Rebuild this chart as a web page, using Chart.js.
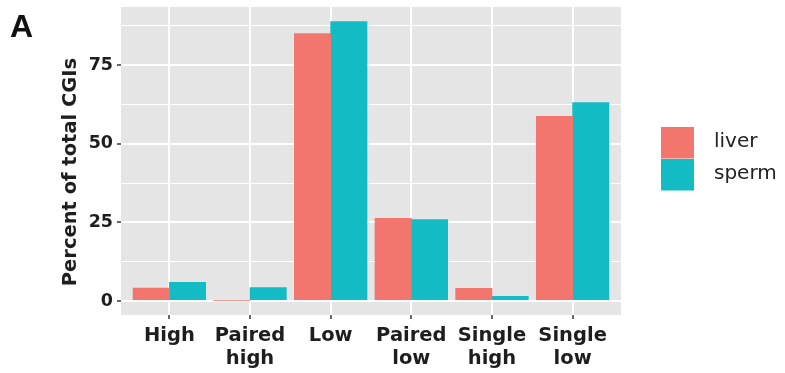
<!DOCTYPE html>
<html>
<head>
<meta charset="utf-8">
<script src="https://cdn.jsdelivr.net/npm/chart.js@4/dist/chart.umd.min.js"></script>
<style>
  body { margin: 0; background: #fff; }
</style>
</head>
<body>
<canvas id="myChart" width="785" height="373"></canvas>
<script>
// data
const categories = [['High'], ['Paired', 'high'], ['Low'], ['Paired', 'low'], ['Single', 'high'], ['Single', 'low']]
const liver = [4.2, 0.1, 85.1, 26.4, 4.1, 58.8]
const sperm = [6.0, 4.4, 88.9, 26.0, 1.6, 63.2]
const yTicks = [0, 12.5, 25, 37.5, 50, 62.5, 75, 87.5]

Chart.defaults.font.family = 'DejaVu Sans'
Chart.defaults.color = '#1e1e1e'

const toPoints = vals => vals.map((v, i) => ({ x: i, y: v }))

// grey panel behind everything
const panelBg = {
  id: 'panelBg',
  beforeDraw (chart) {
    const { ctx, chartArea: a } = chart
    ctx.save()
    ctx.fillStyle = '#E5E5E5'
    ctx.fillRect(a.left, a.top, a.right - a.left, a.bottom - a.top)
    ctx.restore()
  }
}

// ggplot-like legend, panel tag and y title
const extras = {
  id: 'extras',
  afterDraw (chart) {
    const ctx = chart.ctx
    ctx.save()
    // tag
    ctx.fillStyle = '#111'
    ctx.font = 'bold 32px "Liberation Sans"'
    ctx.textBaseline = 'alphabetic'
    ctx.fillText('A', 10, 37)
    // y title
    ctx.save()
    ctx.translate(71, 172)
    ctx.rotate(-Math.PI / 2)
    ctx.font = 'bold 19.5px "DejaVu Sans"'
    ctx.textAlign = 'center'
    ctx.textBaseline = 'middle'
    ctx.fillStyle = '#1e1e1e'
    ctx.fillText('Percent of total CGIs', 0, 0)
    ctx.restore()
    // legend
    const tops = [127, 159]
    chart.data.datasets.forEach((ds, i) => {
      ctx.fillStyle = ds.backgroundColor
      ctx.fillRect(661, tops[i], 33, 31.5)
      ctx.fillStyle = '#222'
      ctx.font = '20px "DejaVu Sans"'
      ctx.textAlign = 'left'
      ctx.textBaseline = 'middle'
      ctx.fillText(ds.label, 714, tops[i] + 15)
    })
    ctx.restore()
  }
}

const ctx = document.getElementById('myChart').getContext('2d')
new Chart(ctx, {
  type: 'bar',
  data: {
    datasets: [
      { label: 'liver', data: toPoints(liver), backgroundColor: '#F2766E', borderWidth: 0 },
      { label: 'sperm', data: toPoints(sperm), backgroundColor: '#13BBC4', borderWidth: 0 }
    ]
  },
  options: {
    responsive: false,
    animation: false,
    layout: { padding: { top: 7, right: 164, left: 0, bottom: 0 } },
    datasets: { bar: { categoryPercentage: 0.9, barPercentage: 1.02 } },
    plugins: { legend: { display: false }, tooltip: { enabled: false } },
    scales: {
      x: {
        type: 'linear',
        min: -0.6,
        max: 5.6,
        offset: false,
        afterBuildTicks: scale => { scale.ticks = categories.map((c, i) => ({ value: i })) },
        afterFit: scale => {
          scale.height = 58
          scale.paddingLeft = 0
          scale.paddingRight = 0
        },
        border: { display: false },
        grid: { offset: false, color: '#fff', lineWidth: 2, tickColor: '#666', tickLength: 4, tickWidth: 2 },
        ticks: {
          autoSkip: false,
          maxRotation: 0,
          minRotation: 0,
          padding: 5,
          font: { size: 19.5, weight: 'bold' },
          callback: v => categories[v]
        }
      },
      y: {
        min: -4.45,
        max: 93.45,
        afterBuildTicks: scale => { scale.ticks = yTicks.map(v => ({ value: v })) },
        afterFit: scale => {
          scale.width = 121
          scale.paddingTop = 0
          scale.paddingBottom = 0
        },
        border: { display: false },
        grid: {
          color: '#fff',
          lineWidth: c => (c.tick && c.tick.value % 25 === 0 ? 2 : 1),
          tickColor: c => (c.tick && c.tick.value % 25 === 0 ? '#666' : 'rgba(0,0,0,0)'),
          tickLength: 4,
          tickWidth: 2
        },
        ticks: {
          padding: 4,
          font: { size: 17.5, weight: 'bold' },
          callback: v => (v % 25 === 0 ? String(v) : '')
        }
      }
    }
  },
  plugins: [panelBg, extras]
})
</script>
</body>
</html>
